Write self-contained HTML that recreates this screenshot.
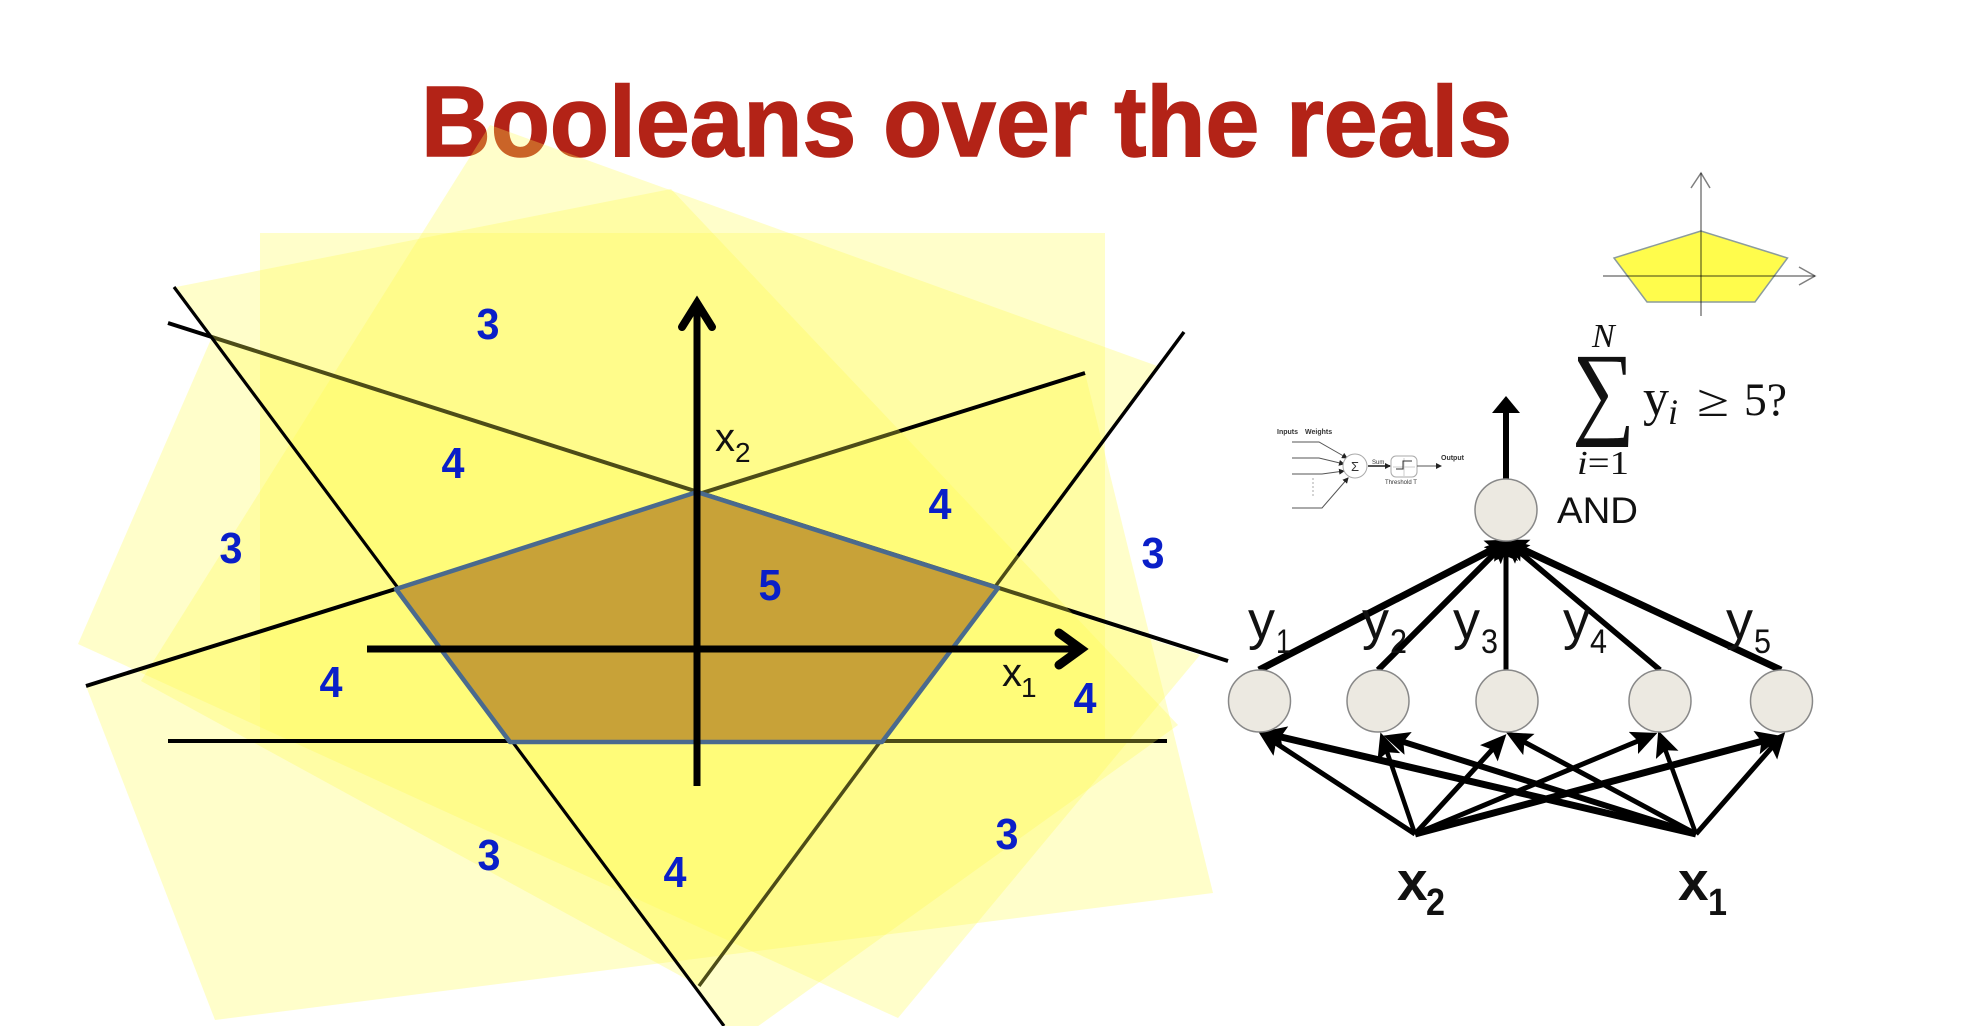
<!DOCTYPE html>
<html><head><meta charset="utf-8"><title>Booleans over the reals</title>
<style>
html,body{margin:0;padding:0;background:#fff;width:1970px;height:1026px;overflow:hidden}
svg{display:block}
.n{font:bold 44px "Liberation Sans",sans-serif;fill:#0a1fc8}
.s{font-family:"Liberation Sans",sans-serif;fill:#111}
.m{font-family:"Liberation Serif",serif;fill:#111}
.t{font-family:"Liberation Sans",sans-serif;fill:#333}
</style></head><body>
<svg width="1970" height="1026" viewBox="0 0 1970 1026" xmlns="http://www.w3.org/2000/svg">
<defs>
<marker id="h" markerUnits="userSpaceOnUse" markerWidth="30" markerHeight="28" refX="18" refY="12" orient="auto"><path d="M0 0L26 12L0 24L5 12Z" fill="#000"/></marker>
<marker id="tiny" markerUnits="userSpaceOnUse" markerWidth="8" markerHeight="6" refX="5" refY="3" orient="auto"><path d="M0 0L6 3L0 6Z" fill="#222"/></marker>
</defs>
<rect width="1970" height="1026" fill="#fff"/>
<text x="421" y="156" font-family="'Liberation Sans',sans-serif" font-weight="bold" font-size="100" fill="#b32317" stroke="#b32317" stroke-width="1.5" textLength="1091" lengthAdjust="spacingAndGlyphs">Booleans over the reals</text>

<g fill="#fffd50" fill-opacity=".3">
<polygon points="260,233 1105,233 1105,741 260,741"/>
<polygon points="212,337 1200,655 898,1018 78,644"/>
<polygon points="86,686 1085,373 1213,893 215,1020"/>
<polygon points="490,125 1160,367 699,986 141,681"/>
</g>
<g stroke="#000" fill="none">
<line x1="168" y1="741" x2="1167" y2="741" stroke-width="4"/>
<line x1="168" y1="323" x2="1228" y2="661" stroke-width="4"/>
<line x1="86" y1="686" x2="1085" y2="373" stroke-width="4"/>
<line x1="1184" y1="332" x2="699" y2="986" stroke-width="3.5"/>
</g>
<polygon points="176,287 671,189 1178,725 736,1042" fill="#fffd50" fill-opacity=".3"/>
<line x1="174" y1="287" x2="724" y2="1026" stroke="#000" stroke-width="3.2"/>
<polygon points="697,492 396,589 510,742 882,742 998,588" fill="#c8a238" stroke="#4a6a8e" stroke-width="4.5" stroke-linejoin="round"/>

<g stroke="#000" stroke-width="7" fill="none">
<line x1="697" y1="304" x2="697" y2="786"/>
<line x1="367" y1="649" x2="1080" y2="649"/>
<path d="M682 327L697 303L712 327" stroke-width="8" stroke-linecap="round" stroke-linejoin="miter"/>
<path d="M1059 633L1081 649L1059 665" stroke-width="9" stroke-linecap="round" stroke-linejoin="miter"/>
</g>
<text class="s" x="715" y="451" font-size="40">x</text><text class="s" x="735" y="462" font-size="28">2</text>
<text class="s" x="1002" y="686" font-size="40">x</text><text class="s" x="1021" y="697" font-size="28">1</text>

<g class="n" text-anchor="middle">
<text x="488" y="339" textLength="23" lengthAdjust="spacingAndGlyphs">3</text>
<text x="453" y="478" textLength="23" lengthAdjust="spacingAndGlyphs">4</text>
<text x="940" y="519" textLength="23" lengthAdjust="spacingAndGlyphs">4</text>
<text x="231" y="563" textLength="23" lengthAdjust="spacingAndGlyphs">3</text>
<text x="770" y="600" textLength="23" lengthAdjust="spacingAndGlyphs">5</text>
<text x="1153" y="568" textLength="23" lengthAdjust="spacingAndGlyphs">3</text>
<text x="331" y="697" textLength="23" lengthAdjust="spacingAndGlyphs">4</text>
<text x="1085" y="713" textLength="23" lengthAdjust="spacingAndGlyphs">4</text>
<text x="489" y="870" textLength="23" lengthAdjust="spacingAndGlyphs">3</text>
<text x="675" y="887" textLength="23" lengthAdjust="spacingAndGlyphs">4</text>
<text x="1007" y="849" textLength="23" lengthAdjust="spacingAndGlyphs">3</text>
</g>

<g transform="translate(-3 0)">
<polygon points="1704,231 1617,258 1650,302 1758,302 1790.5,258" fill="#fffc4c" stroke="#8c9c9c" stroke-width="1.5"/>
<g stroke="#000" stroke-opacity=".5" stroke-width="1.5" fill="none">
<line x1="1704" y1="173" x2="1704" y2="316"/>
<line x1="1606" y1="276" x2="1818" y2="276"/>
<path d="M1694 188L1704 173L1713 188"/>
<path d="M1802 267L1818 276L1802 285"/>
</g></g>

<g fill="none" stroke="#555" stroke-width="1">
<path d="M1292 442H1319L1347 458" marker-end="url(#tiny)"/>
<path d="M1292 458H1319L1344 464" marker-end="url(#tiny)"/>
<path d="M1292 474H1322L1344 471" marker-end="url(#tiny)"/>
<path d="M1292 508H1322L1348 478" marker-end="url(#tiny)"/>
<line x1="1313" y1="478" x2="1313" y2="497" stroke-dasharray="2 2" stroke="#aaa"/>
<circle cx="1355" cy="466" r="12" fill="#fff" stroke="#aaa"/>
<line x1="1368" y1="466" x2="1390" y2="466" stroke-width="2" marker-end="url(#tiny)"/>
<rect x="1391" y="456" width="26" height="21" rx="5" fill="#fff" stroke="#aaa"/>
<path d="M1393 467H1415M1404 458V476" stroke="#ccc"/>
<path d="M1396 469H1403V461H1412" stroke="#333"/>
<line x1="1417" y1="466" x2="1441" y2="466" marker-end="url(#tiny)"/>
<g stroke="none">
<text class="t" x="1277" y="434" font-size="7" font-weight="bold">Inputs</text>
<text class="t" x="1305" y="434" font-size="7" font-weight="bold">Weights</text>
<text class="t" x="1351" y="471" font-size="13">Σ</text>
<text class="t" x="1372" y="464" font-size="6">Sum</text>
<text class="t" x="1385" y="484" font-size="6">Threshold T</text>
<text class="t" x="1441" y="460" font-size="7" font-weight="bold">Output</text>
</g></g>

<g stroke="#000" fill="none">
<line x1="1259" y1="670" x2="1505" y2="543" stroke-width="7" marker-end="url(#h)"/>
<line x1="1378" y1="670" x2="1505" y2="543" stroke-width="6" marker-end="url(#h)"/>
<line x1="1506" y1="670" x2="1506" y2="543" stroke-width="5" marker-end="url(#h)"/>
<line x1="1660" y1="670" x2="1509" y2="543" stroke-width="5.5" marker-end="url(#h)"/>
<line x1="1781" y1="670" x2="1509" y2="543" stroke-width="7" marker-end="url(#h)"/>
<line x1="1506" y1="480" x2="1506" y2="405" stroke-width="6"/>
<line x1="1415" y1="834" x2="1265" y2="736" stroke-width="5" marker-end="url(#h)"/>
<line x1="1415" y1="834" x2="1383" y2="740" stroke-width="4.5" marker-end="url(#h)"/>
<line x1="1415" y1="834" x2="1501" y2="740" stroke-width="5" marker-end="url(#h)"/>
<line x1="1415" y1="834" x2="1650" y2="736" stroke-width="5" marker-end="url(#h)"/>
<line x1="1415" y1="834" x2="1774" y2="738" stroke-width="7" marker-end="url(#h)"/>
<line x1="1696" y1="834" x2="1268" y2="734" stroke-width="7" marker-end="url(#h)"/>
<line x1="1696" y1="834" x2="1391" y2="738" stroke-width="6" marker-end="url(#h)"/>
<line x1="1696" y1="834" x2="1513" y2="736" stroke-width="5" marker-end="url(#h)"/>
<line x1="1696" y1="834" x2="1661" y2="738" stroke-width="4.5" marker-end="url(#h)"/>
<line x1="1696" y1="834" x2="1780" y2="738" stroke-width="5" marker-end="url(#h)"/>
</g>
<polygon points="1506,396 1520,413 1492,413" fill="#000"/>
<g fill="#ece9e1" stroke="#888" stroke-width="1.5">
<circle cx="1506" cy="510" r="31"/>
<circle cx="1259.5" cy="701" r="31"/>
<circle cx="1378" cy="701" r="31"/>
<circle cx="1507" cy="701" r="31"/>
<circle cx="1660" cy="701" r="31"/>
<circle cx="1781.5" cy="701" r="31"/>
</g>
<g>
<text class="s" x="1248" y="639" font-size="54">y</text><text class="s" x="1276" y="653" font-size="34" textLength="15" lengthAdjust="spacingAndGlyphs">1</text>
<text class="s" x="1362" y="639" font-size="54">y</text><text class="s" x="1390" y="653" font-size="34" textLength="17" lengthAdjust="spacingAndGlyphs">2</text>
<text class="s" x="1453" y="639" font-size="54">y</text><text class="s" x="1481" y="653" font-size="34" textLength="17" lengthAdjust="spacingAndGlyphs">3</text>
<text class="s" x="1563" y="639" font-size="54">y</text><text class="s" x="1590" y="653" font-size="34" textLength="17" lengthAdjust="spacingAndGlyphs">4</text>
<text class="s" x="1726" y="639" font-size="54">y</text><text class="s" x="1754" y="653" font-size="34" textLength="17" lengthAdjust="spacingAndGlyphs">5</text>
<text class="s" x="1397" y="900" font-size="55" font-weight="bold">x</text><text class="s" x="1426" y="915" font-size="38" font-weight="bold" textLength="19" lengthAdjust="spacingAndGlyphs">2</text>
<text class="s" x="1678" y="900" font-size="55" font-weight="bold">x</text><text class="s" x="1708" y="915" font-size="38" font-weight="bold" textLength="19" lengthAdjust="spacingAndGlyphs">1</text>
<text class="s" x="1557" y="523" font-size="37" textLength="81" lengthAdjust="spacingAndGlyphs">AND</text>
</g>
<g>
<text class="m" x="1572" y="425" font-size="104" textLength="63" lengthAdjust="spacingAndGlyphs" fill="#000">∑</text>
<text class="m" x="1592" y="347" font-size="34" font-style="italic">N</text>
<text class="m" x="1577" y="474" font-size="34" textLength="52" lengthAdjust="spacingAndGlyphs"><tspan font-style="italic">i</tspan>=1</text>
<text class="m" x="1643" y="415" font-size="52">y</text>
<text class="m" x="1668" y="424" font-size="36" font-style="italic">i</text>
<text class="m" x="1697" y="416" font-size="46" textLength="32" lengthAdjust="spacingAndGlyphs">≥</text>
<text class="m" x="1744" y="415" font-size="47" textLength="43" lengthAdjust="spacingAndGlyphs">5?</text>
</g>
</svg>
</body></html>
